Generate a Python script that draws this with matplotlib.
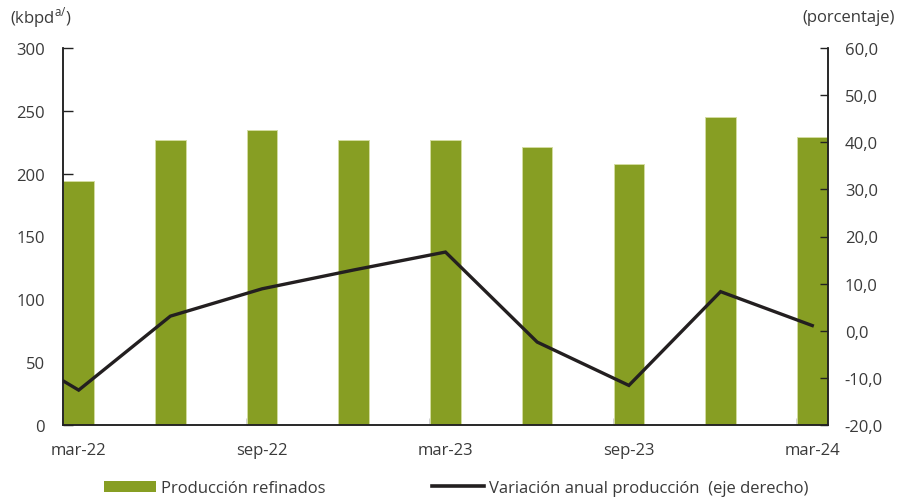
import matplotlib
matplotlib.use("Agg")
import matplotlib.pyplot as plt
from matplotlib.patches import Patch
from matplotlib.lines import Line2D

plt.rcParams['font.family'] = ['Open Sans', 'DejaVu Sans']
plt.rcParams['mathtext.fontset'] = 'custom'
plt.rcParams['mathtext.rm'] = 'Open Sans'

# Data
periods = ["mar-22", "jun-22", "sep-22", "dic-22", "mar-23", "jun-23", "sep-23", "dic-23", "mar-24"]
tick_labels = ["mar-22", "sep-22", "mar-23", "sep-23", "mar-24"]
produccion = [194, 226.5, 235, 226.5, 226.5, 221, 208, 245, 229]
# annual variation (%), first value is the previous quarter (dec-21), partly visible at the left edge
variacion_x = [-1, 0, 1, 2, 3, 4, 5, 6, 7, 8]
variacion = [-1.0, -12.6, 3.1, 8.9, 12.9, 16.7, -2.4, -11.6, 8.3, 1.1]
left_ticks = [0, 50, 100, 150, 200, 250, 300]
right_ticks = [-20, -10, 0, 10, 20, 30, 40, 50, 60]

W, H = 898, 502
fig = plt.figure(figsize=(W / 100, H / 100), dpi=100)
x0, x1, yt, yb = 63, 827.5, 49, 426
ax = fig.add_axes([x0 / W, (H - yb) / H, (x1 - x0) / W, (yb - yt) / H])
ax2 = ax.twinx()

fs = 12
text_col = '#3a3a3a'
bar_col = '#879e23'
bw = 0.334
xs = list(range(len(periods)))
ax.bar(xs, produccion, width=bw, color=bar_col, edgecolor='#d3dca0', linewidth=0.7, zorder=2)
ax.set_xlim(-0.171, 8.166)
ax.set_ylim(0, 300)
ax.set_yticks(left_ticks)
ax.set_yticklabels([str(v) for v in left_ticks])

# x ticks: marks at bar left edges, labels centered under bars
label_pos = [0, 2, 4, 6, 8]
ax.set_xticks([p - bw / 2 for p in label_pos])
ax.set_xticklabels([])
ax.set_xticks(label_pos, minor=True)
ax.set_xticklabels(tick_labels, minor=True)
ax.tick_params(axis='x', which='major', direction='in', length=5, width=1, color='#222222')
ax.tick_params(axis='x', which='minor', length=0, pad=12, labelsize=fs, labelcolor=text_col)
ax.tick_params(axis='y', direction='in', length=7, width=1, color='#222222', labelsize=fs,
               labelcolor=text_col, pad=13)

ax2.plot(variacion_x, variacion, color='#231f20', linewidth=2.4, zorder=3, solid_joinstyle='miter')
ax2.set_ylim(-20, 60)
ax2.set_yticks(right_ticks)
ax2.set_yticklabels([f"{v:.1f}".replace('.', ',') for v in right_ticks])
ax2.tick_params(axis='y', direction='in', length=6, width=1, color='#222222', labelsize=fs,
                labelcolor=text_col, pad=12.5)

for a in (ax, ax2):
    a.spines['top'].set_visible(False)
    for s in ('left', 'right', 'bottom'):
        a.spines[s].set_color('#222222')
        a.spines[s].set_linewidth(1.1)
ax2.set_zorder(ax.get_zorder() + 1)
ax2.patch.set_visible(False)

fig.text(10 / W, 1 - 18 / H, r"(kbpd$^{\mathrm{a/}}$)", fontsize=fs, color=text_col, va='center', ha='left')
fig.text(895 / W, 1 - 18 / H, "(porcentaje)", fontsize=fs, color=text_col, va='center', ha='right')

handles = [Patch(facecolor=bar_col, edgecolor='none'),
           Line2D([], [], color='#231f20', linewidth=2.6)]
labels = ["Producción refinados", "Variación anual producción  (eje derecho)"]
fig.legend(handles, labels, loc='center', bbox_to_anchor=(456 / W, 1 - 489 / H), ncol=2,
           frameon=False, fontsize=fs, handlelength=3.1, handleheight=0.65,
           handletextpad=0.3, columnspacing=6.4, labelcolor=text_col, borderpad=0)

fig.savefig("out.png", dpi=100)
